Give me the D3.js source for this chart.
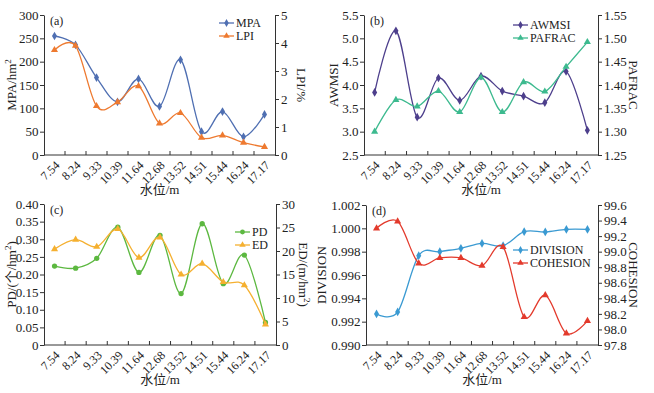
<!DOCTYPE html>
<html>
<head>
<meta charset="utf-8">
<script src="https://cdnjs.cloudflare.com/ajax/libs/d3/7.8.5/d3.min.js"></script>
<style>
body { margin: 0; background: #fff; }
text { font-family: "Liberation Serif", "Times New Roman", "Noto Sans CJK SC", serif; fill: #222; }
</style>
</head>
<body>
<div id="chart"></div>
<script>
// water levels (categories)
var levels = ["7.54", "8.24", "9.33", "10.39", "11.64", "12.68", "13.52", "14.51", "15.44", "16.24", "17.17"];

// (a)
var mpa = [255, 236, 166, 114, 163, 104, 204, 50, 93, 39, 87];
var lpi = [3.75, 3.9, 1.75, 1.89, 2.46, 1.13, 1.5, 0.62, 0.7, 0.44, 0.29];
// (b)
var awmsi = [3.84, 5.16, 3.31, 4.15, 3.67, 4.19, 3.87, 3.76, 3.62, 4.29, 3.03];
var pafrac = [1.300, 1.368, 1.354, 1.387, 1.342, 1.416, 1.342, 1.406, 1.386, 1.439, 1.492];
// (c)
var pd = [0.224, 0.218, 0.246, 0.334, 0.206, 0.311, 0.146, 0.344, 0.174, 0.255, 0.064];
var ed = [20.4, 22.4, 20.9, 24.7, 18.6, 22.9, 15.0, 17.3, 13.4, 12.7, 4.4];
// (d)
var division = [0.99266, 0.99283, 0.99766, 0.998, 0.99829, 0.99871, 0.99851, 0.99971, 0.99969, 0.99991, 0.99991];
var cohesion = [99.30, 99.39, 98.85, 98.92, 98.92, 98.82, 99.06, 98.16, 98.44, 97.95, 98.11];

// tick values
var ticksA = [0, 50, 100, 150, 200, 250, 300], ticksA2 = [0, 1, 2, 3, 4, 5];
var ticksB = [2.5, 3.0, 3.5, 4.0, 4.5, 5.0, 5.5], ticksB2 = [1.25, 1.30, 1.35, 1.40, 1.45, 1.50, 1.55];
var ticksC = [0, 0.05, 0.10, 0.15, 0.20, 0.25, 0.30, 0.35, 0.40], ticksC2 = [0, 5, 10, 15, 20, 25, 30];
var ticksD = [0.990, 0.992, 0.994, 0.996, 0.998, 1.000, 1.002], ticksD2 = [97.8, 98.0, 98.2, 98.4, 98.6, 98.8, 99.0, 99.2, 99.4, 99.6];

var svg = d3.select("#chart").append("svg")
  .attr("width", 654).attr("height", 393);

function panel(o) {
  var g = svg.append("g");
  var x = d3.scaleBand().domain(levels).range([o.l, o.r]);
  var y1 = d3.scaleLinear().domain(o.d1).range([o.b, o.t]);
  var y2 = d3.scaleLinear().domain(o.d2).range([o.b, o.t]);

  // left axis
  g.append("g").attr("transform", "translate(" + o.l + ",0)")
    .call(d3.axisLeft(y1).tickValues(o.t1).tickFormat(o.f1).tickSize(4).tickPadding(1.5).tickSizeOuter(0))
    .call(styleAxis);
  // right axis
  g.append("g").attr("transform", "translate(" + o.r + ",0)")
    .call(d3.axisRight(y2).tickValues(o.t2).tickFormat(o.f2).tickSize(4).tickPadding(2).tickSizeOuter(0))
    .call(styleAxis);

  // x axis: ticks between categories, pointing up
  var xa = g.append("g");
  xa.append("line").attr("x1", o.l).attr("x2", o.r).attr("y1", o.b).attr("y2", o.b)
    .attr("stroke", "#333").attr("stroke-width", 1);
  levels.slice(1).forEach(function(c) {
    xa.append("line").attr("x1", x(c)).attr("x2", x(c)).attr("y1", o.b).attr("y2", o.b - 4)
      .attr("stroke", "#333");
  });
  levels.forEach(function(c) {
    var cx = x(c) + x.bandwidth() / 2 + 3, cy = o.b + 8;
    xa.append("text").attr("transform", "translate(" + cx + "," + cy + ") rotate(-45)")
      .attr("text-anchor", "end").attr("dy", "0.35em").style("font-size", "12px").text(c);
  });
  g.append("text").attr("x", (o.l + o.r) / 2).attr("y", o.b + 39)
    .attr("text-anchor", "middle").style("font-size", "13px").text("水位/m");

  // axis titles
  var lt = g.append("text").attr("transform", "translate(" + o.lx + "," + (o.t + o.b) / 2 + ") rotate(-90)")
    .attr("text-anchor", "middle").attr("dy", "0.35em").style("font-size", "13px");
  addTitle(lt, o.lt);
  var rt = g.append("text").attr("transform", "translate(" + o.rx + "," + (o.t + o.b) / 2 + ") rotate(90)")
    .attr("text-anchor", "middle").attr("dy", "0.35em").style("font-size", "13px");
  addTitle(rt, o.rt);

  g.append("text").attr("x", o.l + 6).attr("y", o.t + 10).style("font-size", "12px").text(o.tag);

  // series
  var sets = [[o.s1, y1, o.c1, o.m1, o.n1], [o.s2, y2, o.c2, o.m2, o.n2]];
  sets.forEach(function(s, i) {
    var line = d3.line()
      .x(function(d, k) { return x(levels[k]) + x.bandwidth() / 2; })
      .y(function(d) { return s[1](d); })
      .curve(d3.curveCardinal.tension(0));
    g.append("path").datum(s[0]).attr("d", line)
      .attr("fill", "none").attr("stroke", s[2]).attr("stroke-width", 1.3);
    g.selectAll(null).data(s[0]).enter().append("path")
      .attr("transform", function(d, k) { return "translate(" + (x(levels[k]) + x.bandwidth() / 2) + "," + s[1](d) + ")"; })
      .attr("d", d3.symbol().type(s[3]).size(22))
      .attr("fill", s[2]);
    // legend
    var ly = o.ly + i * 13;
    g.append("line").attr("x1", o.lgx).attr("x2", o.lgx + 15).attr("y1", ly).attr("y2", ly)
      .attr("stroke", s[2]).attr("stroke-width", 1.3);
    g.append("path").attr("transform", "translate(" + (o.lgx + 7.5) + "," + ly + ")")
      .attr("d", d3.symbol().type(s[3]).size(18)).attr("fill", s[2]);
    g.append("text").attr("x", o.lgx + 17).attr("y", ly).attr("dy", "0.33em")
      .style("font-size", "12px").text(s[4]);
  });
}

function addTitle(t, parts) {
  parts.forEach(function(p) {
    var ts = t.append("tspan").text(p[0]);
    if (p[1]) ts.attr("baseline-shift", "super").style("font-size", "9px");
  });
}

function styleAxis(a) {
  a.select(".domain").attr("stroke", "#333");
  a.selectAll(".tick line").attr("stroke", "#333");
  a.selectAll(".tick text").style("font-size", "13px").attr("fill", "#222")
    .style("font-family", "'Liberation Serif', serif");
}

var f0 = function(d) { return d3.format("d")(d); };

panel({ l: 44, r: 275, t: 15, b: 155, d1: [0, 300], d2: [0, 5], t1: ticksA, t2: ticksA2,
  f1: f0, f2: f0, s1: mpa, s2: lpi, c1: "#4f6fb2", c2: "#ee7a30",
  m1: d3.symbolDiamond, m2: d3.symbolTriangle, n1: "MPA", n2: "LPI",
  lx: 11, rx: 302, lt: [["MPA/hm"], ["2", true]], rt: [["LPI/%"]], tag: "(a)", lgx: 219, ly: 23 });

panel({ l: 364, r: 598, t: 15, b: 155, d1: [2.5, 5.5], d2: [1.25, 1.55], t1: ticksB, t2: ticksB2,
  f1: d3.format(".1f"), f2: d3.format(".2f"), s1: awmsi, s2: pafrac, c1: "#4d3f8c", c2: "#3dba8f",
  m1: d3.symbolDiamond, m2: d3.symbolTriangle, n1: "AWMSI", n2: "PAFRAC",
  lx: 333, rx: 634, lt: [["AWMSI"]], rt: [["PAFRAC"]], tag: "(b)", lgx: 513, ly: 25 });

panel({ l: 44, r: 276, t: 204, b: 345, d1: [0, 0.4], d2: [0, 30], t1: ticksC, t2: ticksC2,
  f1: function(d) { return d === 0 ? "0" : d3.format(".2f")(d); }, f2: f0, s1: pd, s2: ed, c1: "#5cb840", c2: "#f5b030",
  m1: d3.symbolCircle, m2: d3.symbolTriangle, n1: "PD", n2: "ED",
  lx: 11, rx: 304, lt: [["PD/(个/hm"], ["2", true], [")"]], rt: [["ED/(m/hm"], ["2", true], [")"]], tag: "(c)", lgx: 235, ly: 232 });

panel({ l: 366, r: 598, t: 205, b: 345, d1: [0.990, 1.002], d2: [97.8, 99.6], t1: ticksD, t2: ticksD2,
  f1: d3.format(".3f"), f2: d3.format(".1f"), s1: division, s2: cohesion, c1: "#3a9ad2", c2: "#e33a2c",
  m1: d3.symbolDiamond, m2: d3.symbolTriangle, n1: "DIVISION", n2: "COHESION",
  lx: 321, rx: 634, lt: [["DIVISION"]], rt: [["COHESION"]], tag: "(d)", lgx: 513, ly: 250 });
</script>
</body>
</html>
